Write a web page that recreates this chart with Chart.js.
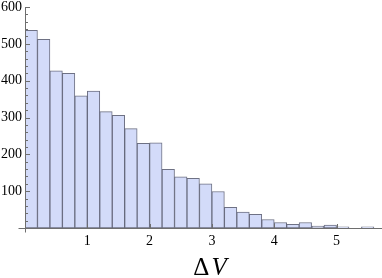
<!DOCTYPE html>
<html>
<head>
<meta charset="utf-8">
<script src="https://cdn.jsdelivr.net/npm/chart.js@4"></script>
<style>
  html, body { margin: 0; padding: 0; background: #fff; }
  #wrap { width: 382px; height: 278px; }
</style>
</head>
<body>
<div id="wrap"><canvas id="c"></canvas></div>
<script>
// histogram bins (width 0.2), centres and counts
const binCenters = [0.1, 0.3, 0.5, 0.7, 0.9, 1.1, 1.3, 1.5, 1.7, 1.9, 2.1, 2.3, 2.5, 2.7,
  2.9, 3.1, 3.3, 3.5, 3.7, 3.9, 4.1, 4.3, 4.5, 4.7, 4.9, 5.1, 5.3, 5.5];
const counts = [537, 512, 427, 420, 359, 372, 316, 306, 270, 230, 231, 159, 139, 135,
  120, 99, 56, 43, 37, 23, 15, 10, 15, 5, 8, 3, 0, 3];
const xTicks = [0, 1, 2, 3, 4, 5];
const yTicks = [0, 100, 200, 300, 400, 500, 600];

const axisColor = '#6e6e6e';
const serif = "'Liberation Serif', 'DejaVu Serif', serif";

// Mathematica-like axes: inward ticks, small overhang where axes cross
const axesPlugin = {
  id: 'axes',
  afterDatasetsDraw(chart) {
    const { ctx, chartArea, scales: { x, y } } = chart;
    const x0 = Math.round(x.getPixelForValue(0)) + 0.5;
    const y0 = Math.round(y.getPixelForValue(0)) + 0.5;
    ctx.save();
    ctx.strokeStyle = axisColor;
    ctx.lineWidth = 1;
    ctx.beginPath();
    ctx.moveTo(x0 - 7, y0);
    ctx.lineTo(chartArea.right, y0);
    ctx.moveTo(x0, y0 + 4);
    ctx.lineTo(x0, y.getPixelForValue(600));
    for (let v = 20; v <= 600; v += 20) {
      const py = Math.round(y.getPixelForValue(v)) + 0.5;
      ctx.moveTo(x0, py);
      ctx.lineTo(x0 + (v % 100 === 0 ? 4.5 : 2.5), py);
    }
    xTicks.slice(1).forEach(v => {
      const px = Math.round(x.getPixelForValue(v)) + 0.5;
      ctx.moveTo(px, y0);
      ctx.lineTo(px, y0 - 4.5);
    });
    ctx.stroke();
    ctx.restore();
  },
  afterDraw(chart) {
    const { ctx, chartArea } = chart;
    ctx.save();
    ctx.fillStyle = '#000';
    ctx.textBaseline = 'alphabetic';
    const up = '25px ' + serif;
    const it = 'italic 25px ' + serif;
    ctx.font = up;
    const w1 = ctx.measureText('Δ').width;
    ctx.font = it;
    const w2 = ctx.measureText('V').width;
    const cx = 210;
    const sx = cx - (w1 + w2 + 2) / 2;
    ctx.font = up;
    ctx.fillText('Δ', sx, 275);
    ctx.font = it;
    ctx.fillText('V', sx + w1 + 2, 275);
    ctx.restore();
  }
};

new Chart(document.getElementById('c'), {
  type: 'bar',
  data: {
    datasets: [{
      data: binCenters.map((c, i) => ({ x: c, y: counts[i] })),
      backgroundColor: '#d3dbf9',
      borderColor: 'rgba(85, 88, 110, 0.85)',
      borderWidth: 1,
      borderSkipped: false,
      barPercentage: 1,
      categoryPercentage: 1
    }]
  },
  options: {
    responsive: true,
    maintainAspectRatio: false,
    animation: false,
    layout: { padding: { top: 7, right: 0, left: 0, bottom: 0 } },
    plugins: { legend: { display: false }, tooltip: { enabled: false } },
    scales: {
      x: {
        type: 'linear',
        offset: false,
        min: 0,
        max: 5.73,
        grid: { display: false, drawTicks: false, offset: false },
        border: { display: false },
        afterBuildTicks: s => { s.ticks = xTicks.map(v => ({ value: v })); },
        afterFit: s => { s.height = 50; s.paddingLeft = 0; s.paddingRight = 0; },
        ticks: {
          padding: 5,
          color: '#000',
          maxRotation: 0,
          autoSkip: false,
          font: { family: serif, size: 14 },
          callback: v => (v === 0 ? '' : v)
        }
      },
      y: {
        min: 0,
        max: 600,
        grid: { display: false, drawTicks: false },
        border: { display: false },
        afterBuildTicks: s => { s.ticks = yTicks.map(v => ({ value: v })); },
        afterFit: s => { s.width = 25; s.paddingTop = 0; s.paddingBottom = 0; },
        ticks: {
          padding: 3,
          color: '#000',
          font: { family: serif, size: 14 },
          callback: v => (v === 0 ? '' : v)
        }
      }
    }
  },
  plugins: [axesPlugin]
});
</script>
</body>
</html>
